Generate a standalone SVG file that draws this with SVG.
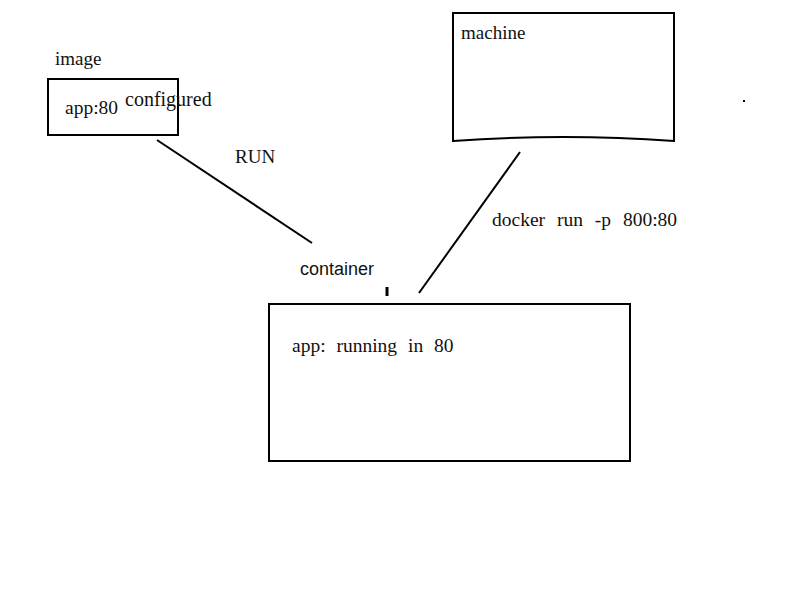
<svg xmlns="http://www.w3.org/2000/svg" width="800" height="600" viewBox="0 0 800 600">
<style>
.box{fill:none;stroke:#000;stroke-width:2}
.ln{stroke:#000;stroke-width:2;fill:none}
.t{font-family:"Liberation Serif","Times New Roman",serif;font-size:19px;fill:#111}
.s{font-family:"Liberation Sans",Arial,sans-serif;font-size:18px;fill:#111}
</style>
<rect width="800" height="600" fill="#fff"/>
<g id="image">
<text class="t" x="55" y="65">image</text>
<rect class="box" x="48" y="79" width="130" height="56"/>
<text class="t" x="65" y="114" style="font-size:19.5px">app:80</text>
<text class="t" x="125" y="106" style="font-size:20px">configured</text>
</g>
<g id="machine">
<path class="box" d="M453 13 H674 V141 Q563 133 453 141 Z"/>
<text class="t" x="461" y="39">machine</text>
</g>
<g id="container">
<text class="s" x="300" y="275">container</text>
<rect class="box" x="269" y="304" width="361" height="157"/>
<text class="t" x="292" y="352" style="word-spacing:6px;font-size:19.5px">app: running in 80</text>
</g>
<g id="connectors">
<line class="ln" x1="157" y1="140" x2="312" y2="243"/>
<line class="ln" x1="520" y1="152" x2="419" y2="293"/>
<line x1="387" y1="287" x2="387" y2="296" stroke="#000" stroke-width="3"/>
<text class="t" x="235" y="163">RUN</text>
<text class="t" x="492" y="226" style="word-spacing:7px;font-size:19.5px">docker run -p 800:80</text>
</g>
<rect x="743" y="100" width="2" height="2" fill="#000"/>
</svg>
